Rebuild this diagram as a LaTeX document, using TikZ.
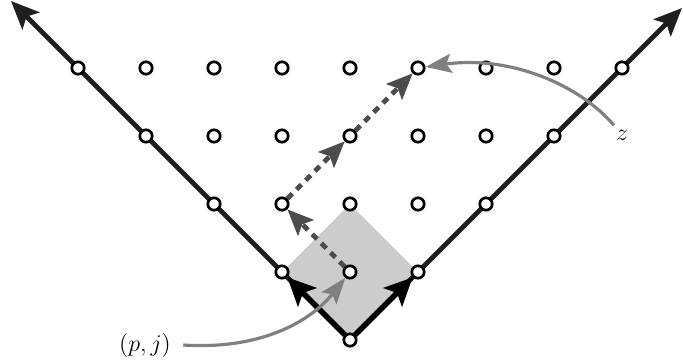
\documentclass[tikz,border=0pt]{standalone}
\usetikzlibrary{arrows.meta,backgrounds}
\begin{document}
\begin{tikzpicture}[x=0.5pt,y=-0.5pt,
  dot/.style={circle,draw,fill=white,line width=1.35pt,minimum size=6.2pt,inner sep=0pt},
  axisline/.style={line width=2.4pt,draw=black!88,-{Stealth[length=14pt,width=12pt,inset=3pt]}},
  edgearrow/.style={line width=2.8pt,-{Stealth[length=14pt,width=13pt,inset=3pt]}},
  walk/.style={line width=2.4pt,draw=black!70,dash pattern=on 3.5pt off 3pt,-{Stealth[length=13pt,width=11pt,inset=2.5pt]}},
  pointer/.style={line width=1.6pt,draw=black!50,-{Stealth[length=13pt,width=9.5pt,inset=2.5pt]}},
  lbl/.style={inner sep=2pt,font=\large}]
\useasboundingbox (0,0) rectangle (683,360);
\foreach \k in {0,...,4}{
  \pgfmathtruncatemacro{\jmax}{2*\k}
  \foreach \j in {0,...,\jmax}{
    \node[dot] (n\k-\j) at ({350+68*(\j-\k)},{340-68*\k}) {};
  }
}
\coordinate (tl) at (11,1);
\coordinate (tr) at (682,8);
\begin{scope}[on background layer]
  \fill[black!20] (n2-2.center) -- (n1-2.center) -- (n0-0.center) -- (n1-0.center) -- cycle;
  \draw[axisline] (n0-0) -- (tl);
  \draw[axisline] (n0-0) -- (tr);
  \draw[edgearrow] (n0-0) -- (n1-0);
  \draw[edgearrow] (n0-0) -- (n1-2);
  \draw[walk] (n1-1) -- (n2-1);
  \draw[walk] (n2-1) -- (n3-3);
  \draw[walk] (n3-3) -- (n4-5);
\end{scope}
\node[lbl] (pj) at (145,345) {$(p,j)$};
\node[lbl] (z) at (622,135) {$z$};
\draw[pointer] ([xshift=4pt]pj.east) .. controls (260,350) and (310,322) .. (n1-1);
\draw[pointer] (z) .. controls (580,85) and (510,55) .. (n4-5);
\end{tikzpicture}
\end{document}
